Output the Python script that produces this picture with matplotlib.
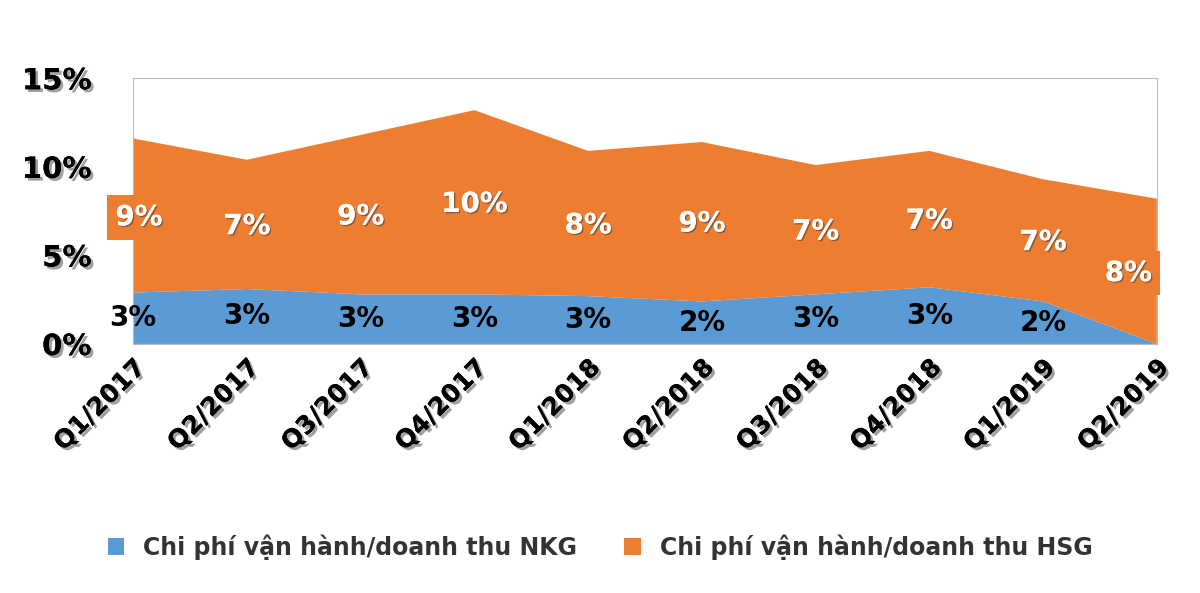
import matplotlib
matplotlib.use("Agg")
import matplotlib.pyplot as plt
import matplotlib.patheffects as pe
import numpy as np

quarters = ["Q1/2017","Q2/2017","Q3/2017","Q4/2017","Q1/2018","Q2/2018","Q3/2018","Q4/2018","Q1/2019","Q2/2019"]
nkg = [2.9, 3.1, 2.8, 2.8, 2.7, 2.4, 2.8, 3.2, 2.4, 0.0]
hsg = [8.7, 7.3, 9.0, 10.4, 8.2, 9.0, 7.3, 7.7, 6.9, 8.2]
nkg_labels = ["3%","3%","3%","3%","3%","2%","3%","3%","2%",""]
hsg_labels = ["9%","7%","9%","10%","8%","9%","7%","7%","7%","8%"]
yticks = [0, 5, 10, 15]
ytick_labels = ["0%","5%","10%","15%"]

fig = plt.figure(figsize=(12, 5.93), dpi=100)
ax = fig.add_axes([0.111, 0.42, 0.853, 0.448])
x = np.arange(len(quarters))
blue = "#5B9BD5"; orange = "#ED7D31"
ax.stackplot(x, nkg, hsg, colors=[blue, orange],
             labels=["Chi phí vận hành/doanh thu NKG", "Chi phí vận hành/doanh thu HSG"])
ax.set_xlim(0, len(x)-1)
ax.set_ylim(0, 15)
for s in ax.spines.values():
    s.set_color("#bbbbbb")
ax.tick_params(length=0)
shadow = [pe.withSimplePatchShadow(offset=(2, -2), shadow_rgbFace="#888888", alpha=0.8), pe.Normal()]
ax.set_yticks(yticks)
ax.set_yticklabels(ytick_labels, fontsize=21, fontweight="bold")
ax.set_xticks(x)
ax.set_xticklabels(quarters, fontsize=18, fontweight="bold", rotation=45, ha="right", rotation_mode="anchor")
for t in ax.get_xticklabels() + ax.get_yticklabels():
    t.set_path_effects(shadow)
ax.tick_params(axis="y", pad=30)
ax.tick_params(axis="x", pad=8)

offs = [0.05, 0, 0, 0, 0, 0, 0, 0, 0, -0.25]
for i in range(len(x)):
    if nkg_labels[i]:
        ax.text(x[i], max(nkg[i]/2, 1.2), nkg_labels[i], ha="center", va="center",
                fontsize=20, fontweight="bold", color="black")
    ax.text(x[i] + offs[i], nkg[i] + hsg[i]/2 - 0.1, hsg_labels[i], ha="center", va="center",
            fontsize=20, fontweight="bold", color="white",
            bbox=dict(boxstyle="square,pad=0.3", fc=orange, ec="none"),
            path_effects=[pe.withSimplePatchShadow(offset=(1,-1), shadow_rgbFace="#333333", alpha=0.5), pe.Normal()])

leg = fig.legend(loc="lower center", bbox_to_anchor=(0.5, 0.02), ncol=2, frameon=False,
                 fontsize=17, handlelength=0.7, handleheight=0.7, columnspacing=2.0)
for t in leg.get_texts():
    t.set_color("#333333"); t.set_fontweight("bold")
fig.savefig("out.png", dpi=100)
